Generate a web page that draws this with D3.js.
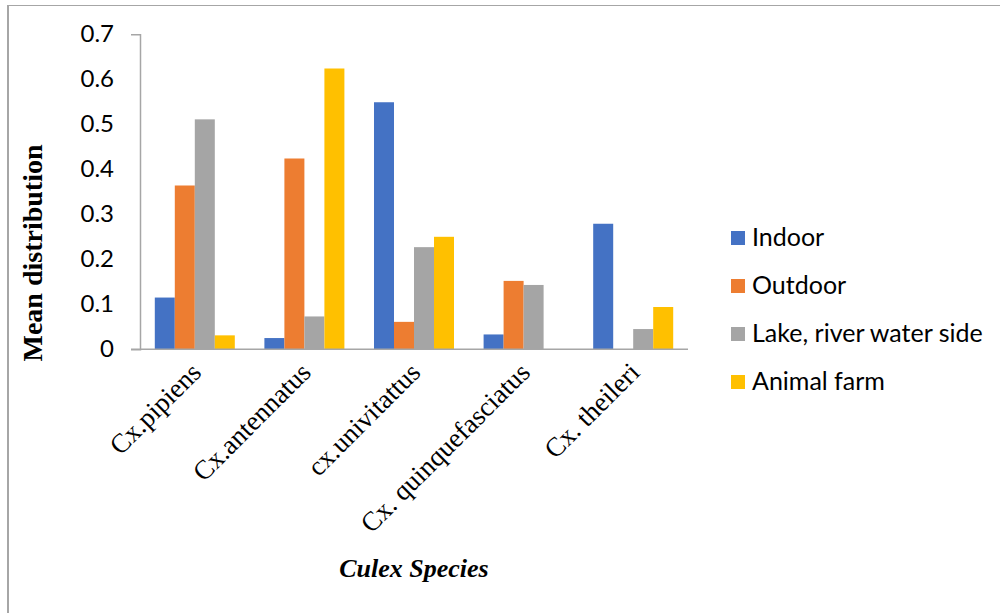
<!DOCTYPE html>
<html>
<head>
<meta charset="utf-8">
<script src="https://cdn.jsdelivr.net/npm/d3@7"></script>
<style>
  html, body { margin: 0; padding: 0; background: #fff; }
  svg { display: block; }
</style>
</head>
<body>
<svg id="chart" width="1000" height="613"></svg>
<script>
// Culex species and their mean distribution per habitat
const species = ["Cx.pipiens", "Cx.antennatus", "cx.univitattus", "Cx. quinquefasciatus", "Cx. theileri"];
const seriesNames = ["Indoor", "Outdoor", "Lake, river water side", "Animal farm"];
const indoor   = [0.115, 0.025, 0.549, 0.033, 0.279];
const outdoor  = [0.364, 0.424, 0.061, 0.152, 0];
const lakeSide = [0.511, 0.073, 0.227, 0.143, 0.045];
const farm     = [0.031, 0.624, 0.250, 0,     0.094];
const seriesValues = [indoor, outdoor, lakeSide, farm];
const yTicks = [0, 0.1, 0.2, 0.3, 0.4, 0.5, 0.6, 0.7];
const colors = ["#4472C4", "#ED7D31", "#A5A5A5", "#FFC000"];

const svg = d3.select("#chart");
const axisColor = "#a6a6a6";
const sansFont = "Lato, 'Open Sans', sans-serif";
const serifFont = "'Liberation Serif', 'DejaVu Serif', serif";

// frame lines (top and left)
svg.append("line").attr("x1", 7).attr("x2", 1000).attr("y1", 5.5).attr("y2", 5.5)
  .attr("stroke", axisColor).attr("stroke-width", 1);
svg.append("line").attr("x1", 8).attr("x2", 8).attr("y1", 5).attr("y2", 613)
  .attr("stroke", axisColor).attr("stroke-width", 2);

const plot = { left: 140, right: 688, top: 34.3, bottom: 349.3 };

const y = d3.scaleLinear().domain([0, 0.7]).range([plot.bottom, plot.top]);
const x0 = d3.scaleBand().domain(species).range([plot.left, plot.right])
  .paddingInner(0.27).paddingOuter(0.135);
const x1 = d3.scaleBand().domain(seriesNames).range([0, x0.bandwidth()]);

// bars
const groups = svg.append("g").selectAll("g")
  .data(species)
  .join("g")
  .attr("transform", d => `translate(${x0(d)},0)`);

groups.selectAll("rect")
  .data((d, i) => seriesNames.map((s, k) => ({ s, k, v: seriesValues[k][i] })))
  .join("rect")
  .filter(d => d.v > 0)
  .attr("x", d => x1(d.s))
  .attr("y", d => y(d.v))
  .attr("width", x1.bandwidth())
  .attr("height", d => y(0) - y(d.v))
  .attr("fill", d => colors[d.k]);

// y axis
const yAxis = svg.append("g")
  .attr("transform", `translate(${plot.left},0)`)
  .call(d3.axisLeft(y).tickValues(yTicks).tickFormat(d3.format("")).tickSizeInner(0).tickSizeOuter(9).tickPadding(26));
yAxis.select(".domain").attr("stroke", axisColor).attr("stroke-width", 1.5);
yAxis.selectAll("text").attr("font-family", sansFont).attr("font-size", 24).attr("fill", "#000");

// x axis
const xAxis = svg.append("g")
  .attr("transform", `translate(0,${plot.bottom})`)
  .call(d3.axisBottom(x0).tickSize(0).tickFormat(""));
xAxis.select(".domain").remove();
svg.append("line")
  .attr("x1", plot.left - 9).attr("x2", plot.right)
  .attr("y1", plot.bottom).attr("y2", plot.bottom)
  .attr("stroke", axisColor).attr("stroke-width", 1.5);

svg.append("g").selectAll("text")
  .data(species)
  .join("text")
  .attr("transform", d => `translate(${x0(d) + x0.bandwidth() / 2 + 8},374) rotate(-45)`)
  .attr("text-anchor", "end")
  .attr("font-family", serifFont)
  .attr("font-size", 27)
  .attr("fill", "#000")
  .text(d => d);

// axis titles
svg.append("text")
  .attr("transform", "translate(42,253) rotate(-90)")
  .attr("text-anchor", "middle")
  .attr("font-family", serifFont)
  .attr("font-weight", "bold")
  .attr("font-size", 28)
  .text("Mean distribution");

svg.append("text")
  .attr("x", (plot.left + plot.right) / 2)
  .attr("y", 577)
  .attr("text-anchor", "middle")
  .attr("font-family", serifFont)
  .attr("font-weight", "bold")
  .attr("font-style", "italic")
  .attr("font-size", 26)
  .text("Culex Species");

// legend
const legend = svg.append("g").selectAll("g")
  .data(seriesNames)
  .join("g")
  .attr("transform", (d, i) => `translate(731,${231 + i * 48})`);
legend.append("rect").attr("width", 14).attr("height", 14)
  .attr("fill", (d, i) => colors[i]);
legend.append("text")
  .attr("x", 21).attr("y", 14.5)
  .attr("font-family", sansFont).attr("font-size", 25).attr("fill", "#000")
  .text(d => d);
</script>
</body>
</html>
